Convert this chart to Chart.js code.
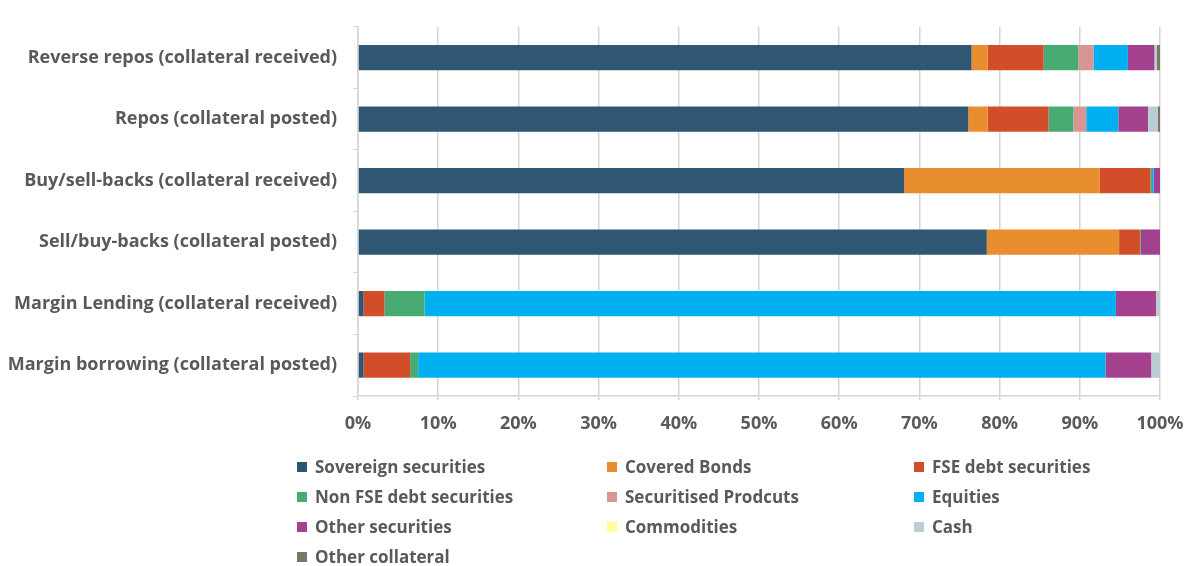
<!DOCTYPE html>
<html>
<head>
<meta charset="utf-8">
<title>Collateral composition</title>
<script src="https://cdn.jsdelivr.net/npm/chart.js@4.4.1/dist/chart.umd.min.js"></script>
<style>
  html, body { margin: 0; padding: 0; background: #fff; }
  #wrap { position: relative; width: 1186px; height: 566px; }
  #legend { position: absolute; left: 0; top: 0; width: 1186px; height: 566px; pointer-events: none;
            font-family: "Open Sans", sans-serif; font-weight: 700; font-size: 17px; color: #595959; }
  .item { position: absolute; white-space: nowrap; line-height: 20px; }
  .box { display: inline-block; width: 10px; height: 10px; margin-right: 8px; vertical-align: 1px; }
</style>
</head>
<body>
<div id="wrap">
  <canvas id="c" width="1186" height="566"></canvas>
  <div id="legend"></div>
</div>
<script>
// categories, top to bottom
const categories = [
  "Reverse repos (collateral received)",
  "Repos (collateral posted)",
  "Buy/sell-backs (collateral received)",
  "Sell/buy-backs (collateral posted)",
  "Margin Lending (collateral received)",
  "Margin borrowing (collateral posted)"
];

// shares in % per category
const sovereign    = [76.5, 76.1, 68.1, 78.4, 0.7, 0.7];
const coveredBonds = [2.0, 2.4, 24.4, 16.5, 0, 0];
const fseDebt      = [7.0, 7.6, 6.3, 2.6, 2.6, 5.8];
const nonFseDebt   = [4.3, 3.1, 0.2, 0.1, 5.0, 1.0];
const securitised  = [1.9, 1.6, 0, 0, 0, 0];
const equities     = [4.3, 4.0, 0.2, 0, 86.2, 85.7];
const otherSec     = [3.3, 3.7, 0.8, 2.4, 5.0, 5.7];
const commodities  = [0, 0, 0, 0, 0, 0];
const cash         = [0.3, 1.2, 0, 0, 0.5, 1.1];
const otherColl    = [0.4, 0.3, 0, 0, 0, 0];

const xTicks = [0, 10, 20, 30, 40, 50, 60, 70, 80, 90, 100];

const series = [
  { label: "Sovereign securities",     data: sovereign,    color: "#2F5773" },
  { label: "Covered Bonds",            data: coveredBonds, color: "#E98E2F" },
  { label: "FSE debt securities",      data: fseDebt,      color: "#D24E2A" },
  { label: "Non FSE debt securities",  data: nonFseDebt,   color: "#48AB73" },
  { label: "Securitised Prodcuts",     data: securitised,  color: "#D99594" },
  { label: "Equities",                 data: equities,     color: "#00B0F0" },
  { label: "Other securities",         data: otherSec,     color: "#A4418E" },
  { label: "Commodities",              data: commodities,  color: "#FFFF99" },
  { label: "Cash",                     data: cash,         color: "#B9CDD3" },
  { label: "Other collateral",         data: otherColl,    color: "#77776A" }
];

const font = { family: '"Open Sans", sans-serif', size: 18, weight: 'bold' };

new Chart(document.getElementById('c'), {
  type: 'bar',
  data: {
    labels: categories,
    datasets: series.map(s => ({
      label: s.label,
      data: s.data,
      backgroundColor: s.color,
      borderWidth: 0,
      barPercentage: 0.41,
      categoryPercentage: 1
    }))
  },
  options: {
    indexAxis: 'y',
    responsive: false,
    animation: false,
    layout: { padding: { top: 13, right: 26, bottom: 0, left: 0 } },
    plugins: { legend: { display: false }, tooltip: { enabled: false } },
    scales: {
      x: {
        stacked: true,
        min: 0, max: 100,
        afterBuildTicks: axis => { axis.ticks = xTicks.map(v => ({ value: v })); },
        ticks: { callback: v => v + '%', color: '#595959', font: font, padding: 13, maxRotation: 0 },
        grid: { color: '#d6d6d6', lineWidth: 1.5, tickLength: 4 },
        border: { color: '#d6d6d6', width: 1.5 },
        afterFit: axis => { axis.height = 170; axis.paddingLeft = 0; axis.paddingRight = 0; }
      },
      y: {
        stacked: true,
        ticks: { color: '#595959', font: font, padding: 16 },
        grid: { drawOnChartArea: false, color: '#d6d6d6', tickLength: 5 },
        border: { color: '#d6d6d6', width: 1.5 },
        afterFit: axis => { axis.width = 358; }
      }
    }
  }
});

// legend in three columns, as in the original
const legendCols = [297, 607, 914];
const legendRows = [468, 498, 528, 558];
const leg = document.getElementById('legend');
series.forEach((s, i) => {
  const d = document.createElement('div');
  d.className = 'item';
  d.style.left = legendCols[i % 3] + 'px';
  d.style.top = (legendRows[Math.floor(i / 3)] - 11) + 'px';
  d.innerHTML = '<span class="box" style="background:' + s.color + '"></span>' + s.label;
  leg.appendChild(d);
});
</script>
</body>
</html>
